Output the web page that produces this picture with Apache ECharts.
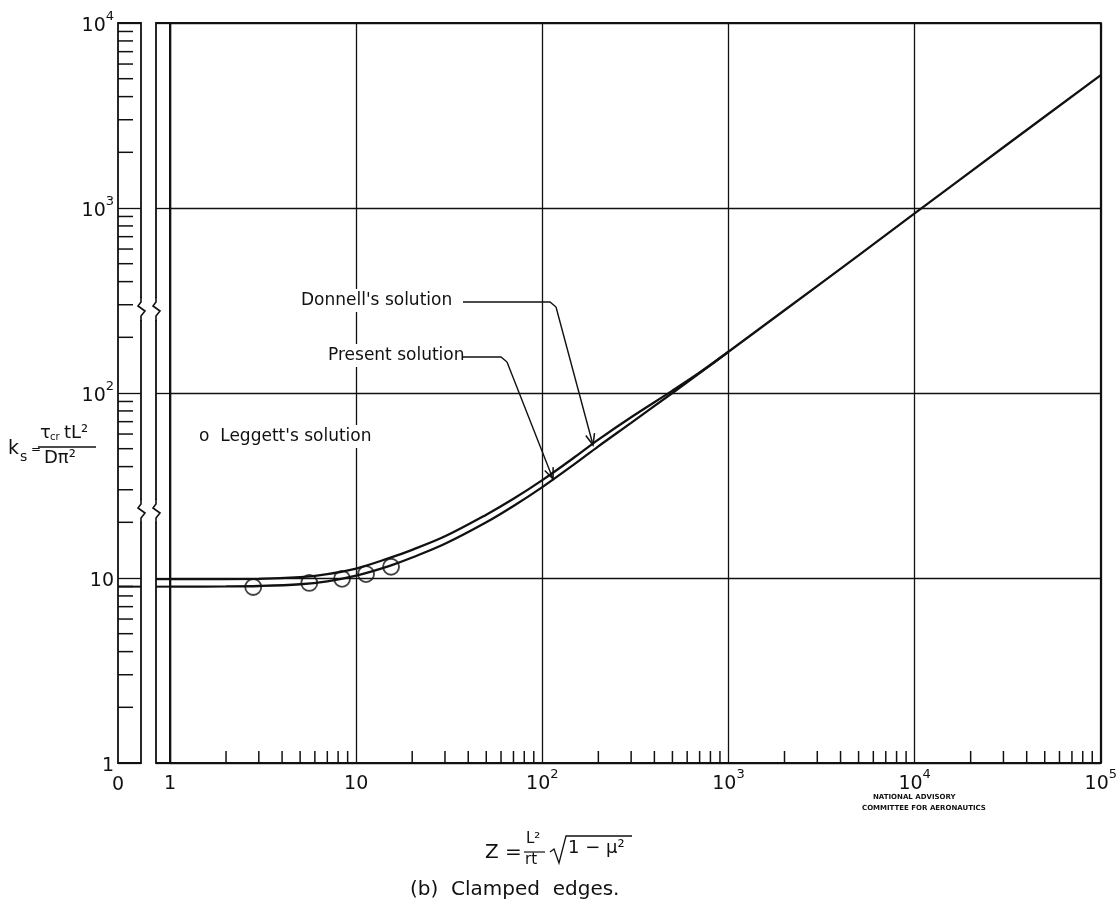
<!DOCTYPE html>
<html><head><meta charset="utf-8">
<script src="https://cdn.jsdelivr.net/npm/echarts@6/dist/echarts.min.js"></script>
<style>html,body{margin:0;padding:0;background:#fff}#c{width:1120px;height:923px}</style>
</head><body><div id="c"></div>
<script>
// ---- data ----
const presentZ = [1, 2, 3, 5, 7, 10, 15, 20, 30, 50, 70, 100, 150, 200, 300, 500, 700, 1000, 2000, 5000, 10000, 30000, 100000];
const presentK = [8.98, 9.0, 9.05, 9.25, 9.6, 10.3, 11.6, 12.9, 15.3, 20.0, 24.5, 31.0, 41.5, 51.5, 69, 100, 128, 167, 280, 555, 935, 2130, 5230];
const donnellZ = [1, 3, 5, 7, 10, 15, 20, 30, 50, 70, 100, 150, 200, 300, 500, 700, 1000];
const donnellK = [9.85, 9.9, 10.1, 10.5, 11.25, 12.8, 14.2, 16.8, 22.0, 26.8, 33.8, 45.2, 56, 74, 103, 129, 167];
const leggettZ = [2.8, 5.6, 8.4, 11.3, 15.4];
const leggettK = [8.94, 9.4, 9.9, 10.5, 11.5];
const flatPresentK = 8.98;
const flatDonnellK = 9.85;
const xMinorTicks = [2,3,4,5,6,7,8,9,20,30,40,50,60,70,80,90,200,300,400,500,600,700,800,900,
  2000,3000,4000,5000,6000,7000,8000,9000,20000,30000,40000,50000,60000,70000,80000,90000];
const yMinorTicks = [2,3,4,5,6,7,8,9,20,30,40,50,60,70,80,90,200,300,400,500,600,700,800,900,
  2000,3000,4000,5000,6000,7000,8000,9000];
const xTickLabels = {1:'{b|1}', 10:'{b|10}', 100:'{b|10}{s|2}', 1000:'{b|10}{s|3}', 10000:'{b|10}{s|4}', 100000:'{b|10}{s|5}'};
const yTickLabels = {1:'{b|1}', 10:'{b|10}', 100:'{b|10}{s|2}', 1000:'{b|10}{s|3}', 10000:'{b|10}{s|4}'};

const FONT = 'DejaVu Sans';
const rich = {
  b: {fontFamily: FONT, fontSize: 19, color: '#111', verticalAlign: 'bottom', lineHeight: 26},
  s: {fontFamily: FONT, fontSize: 13, color: '#111', verticalAlign: 'top', lineHeight: 26}
};
const TOP = 23, BOTTOM = 160;
const INK = '#111';

const chart = echarts.init(document.getElementById('c'), null, {renderer: 'canvas'});

function tickSeries(xi, yi, data, dir, len) {
  return {
    type: 'custom', xAxisIndex: xi, yAxisIndex: yi, silent: true, clip: false, z: 3,
    data: data,
    renderItem: function (params, api) {
      const v = api.value(0);
      let p, q;
      if (dir === 'x') { p = api.coord([v, 1]); q = [p[0], p[1] - len]; }
      else { p = api.coord([0, v]); q = [p[0] + len, p[1]]; }
      return {type: 'line', shape: {x1: p[0], y1: p[1], x2: q[0], y2: q[1]},
              style: {stroke: INK, lineWidth: 1.5}};
    }
  };
}

const blackSplit = {show: true, lineStyle: {color: INK, width: 1.3}};
const txt = (t, l, tp, size) => ({type: 'text', left: l, top: tp, z: 50,
  style: {text: t, font: size + 'px "DejaVu Sans"', fill: INK, backgroundColor: '#fff', padding: [3, 4, 3, 4]}});
const pl = (pts, w) => ({type: 'polyline', z: 60, shape: {points: pts}, style: {stroke: INK, lineWidth: w || 1.4, fill: null}});
function arrowHead(tip, from) {
  const dx = tip[0] - from[0], dy = tip[1] - from[1];
  const L = Math.hypot(dx, dy), ux = dx / L, uy = dy / L, a = 11, w = 4.5;
  const b = [tip[0] - ux * a, tip[1] - uy * a];
  return pl([[b[0] - uy * w, b[1] + ux * w], tip, [b[0] + uy * w, b[1] - ux * w]], 1.5);
}
function zig(x, y) {
  return [
    {type: 'rect', z: 55, shape: {x: x - 5, y: y - 2, width: 10, height: 22}, style: {fill: '#fff'}},
    pl([[x, y - 3], [x, y + 2], [x - 3, y + 6], [x + 4, y + 11], [x, y + 16], [x, y + 21]], 1.6)
  ];
}

const option = {
  animation: false,
  backgroundColor: '#fff',
  grid: [
    {left: 118, width: 23, top: TOP, bottom: BOTTOM, show: true, borderColor: INK, borderWidth: 1.8, backgroundColor: 'transparent'},
    {left: 156, width: 14, top: TOP, bottom: BOTTOM, show: true, borderColor: INK, borderWidth: 1.8, backgroundColor: 'transparent'},
    {left: 170, right: 18, top: TOP, bottom: BOTTOM, show: true, borderColor: INK, borderWidth: 1.8, backgroundColor: 'transparent'}
  ],
  xAxis: [
    {gridIndex: 0, type: 'value', min: 0, max: 1, interval: 1, axisLine: {show: false}, axisTick: {show: false}, splitLine: {show: false},
     axisLabel: {formatter: v => v === 0 ? '{b|0}' : '', rich: rich, margin: 6}},
    {gridIndex: 1, type: 'value', min: 0, max: 1, show: false},
    {gridIndex: 2, type: 'log', logBase: 10, min: 1, max: 100000,
     axisLine: {show: true, lineStyle: {color: INK, width: 1.8}}, axisTick: {show: false},
     splitLine: blackSplit, minorTick: {show: false},
     axisLabel: {formatter: v => xTickLabels[Math.round(v)] || '', rich: rich, margin: 5}}
  ],
  yAxis: [
    {gridIndex: 0, type: 'log', logBase: 10, min: 1, max: 10000, position: 'left',
     axisLine: {show: false}, axisTick: {show: false}, splitLine: blackSplit,
     axisLabel: {formatter: v => yTickLabels[Math.round(v)] || '', rich: rich, margin: 4}},
    {gridIndex: 1, type: 'log', logBase: 10, min: 1, max: 10000, axisLine: {show: false}, axisTick: {show: false},
     axisLabel: {show: false}, splitLine: blackSplit},
    {gridIndex: 2, type: 'log', logBase: 10, min: 1, max: 10000,
     axisLine: {show: true, lineStyle: {color: INK, width: 1.4}}, axisTick: {show: false},
     axisLabel: {show: false}, splitLine: blackSplit}
  ],
  series: [
    tickSeries(2, 2, xMinorTicks, 'x', 12),
    tickSeries(0, 0, yMinorTicks, 'y', 15),
    {type: 'line', xAxisIndex: 0, yAxisIndex: 0, data: [[0, flatPresentK], [1, flatPresentK]], symbol: 'none',
     lineStyle: {color: INK, width: 2}},
    {type: 'line', xAxisIndex: 1, yAxisIndex: 1, data: [[0, flatPresentK], [1, flatPresentK]], symbol: 'none',
     lineStyle: {color: INK, width: 2}},
    {type: 'line', xAxisIndex: 1, yAxisIndex: 1, data: [[0, flatDonnellK], [1, flatDonnellK]], symbol: 'none',
     lineStyle: {color: INK, width: 2}},
    {name: 'Present solution', type: 'line', xAxisIndex: 2, yAxisIndex: 2, smooth: 0.35, symbol: 'none',
     data: presentZ.map((z, i) => [z, presentK[i]]), lineStyle: {color: INK, width: 2.3}},
    {name: "Donnell's solution", type: 'line', xAxisIndex: 2, yAxisIndex: 2, smooth: 0.35, symbol: 'none',
     data: donnellZ.map((z, i) => [z, donnellK[i]]), lineStyle: {color: INK, width: 2.3}},
    {name: "Leggett's solution", type: 'scatter', xAxisIndex: 2, yAxisIndex: 2, symbol: 'circle', symbolSize: 16,
     data: leggettZ.map((z, i) => [z, leggettK[i]]),
     itemStyle: {color: 'rgba(255,255,255,0)', borderColor: INK, borderWidth: 1.8}}
  ],
  graphic: [
    // annotations
    txt("Donnell's solution", 297, 289, 17),
    pl([[463, 302], [550, 302], [556, 307]]),
    pl([[556, 307], [593, 445]]),
    arrowHead([593, 445], [556, 307]),
    txt('Present solution', 324, 344, 17),
    pl([[463, 357], [501, 357], [507, 362]]),
    pl([[507, 362], [553, 479]]),
    arrowHead([553, 479], [507, 362]),
    txt("o  Leggett's solution", 195, 425, 17),
    // axis breaks
    ...zig(141, 300), ...zig(156, 300), ...zig(141, 502), ...zig(156, 502),
    // x-axis title
    {type: 'text', left: 485, top: 843, style: {text: 'Z =', font: '20px "DejaVu Sans"', fill: INK}},
    {type: 'text', left: 526, top: 832, style: {text: 'L²', font: '15px "DejaVu Sans"', fill: INK}},
    {type: 'line', shape: {x1: 524, y1: 852, x2: 545, y2: 852}, style: {stroke: INK, lineWidth: 1.2}},
    {type: 'text', left: 525, top: 853, style: {text: 'rt', font: '15px "DejaVu Sans"', fill: INK}},
    {type: 'polyline', shape: {points: [[550, 852], [554, 849], [559, 863], [566, 836], [632, 836]]}, style: {stroke: INK, lineWidth: 1.3, fill: null}},
    {type: 'text', left: 568, top: 839, style: {text: '1 − μ²', font: '18px "DejaVu Sans"', fill: INK}},
    {type: 'text', left: 410, top: 880, style: {text: '(b)  Clamped  edges.', font: '20px "DejaVu Sans"', fill: INK}},
    // y-axis title
    {type: 'text', left: 8, top: 440, style: {text: 'k', font: '19px "DejaVu Sans"', fill: INK}},
    {type: 'text', left: 20, top: 450, style: {text: 's', font: '14px "DejaVu Sans"', fill: INK}},
    {type: 'text', left: 31, top: 444, style: {text: '=', font: '12px "DejaVu Sans"', fill: INK}},
    {type: 'text', left: 40, top: 424, style: {text: 'τ', font: '18px "DejaVu Sans"', fill: INK}},
    {type: 'text', left: 50, top: 432, style: {text: 'cr', font: '10px "DejaVu Sans"', fill: INK}},
    {type: 'text', left: 64, top: 424, style: {text: 'tL²', font: '18px "DejaVu Sans"', fill: INK}},
    {type: 'line', shape: {x1: 38, y1: 447, x2: 96, y2: 447}, style: {stroke: INK, lineWidth: 1.3}},
    {type: 'text', left: 44, top: 449, style: {text: 'Dπ²', font: '18px "DejaVu Sans"', fill: INK}},
    // NACA stamp
    {type: 'text', left: 873, top: 794, style: {text: 'NATIONAL ADVISORY', font: 'bold 7px "DejaVu Sans"', fill: INK}},
    {type: 'text', left: 862, top: 805, style: {text: 'COMMITTEE FOR AERONAUTICS', font: 'bold 7px "DejaVu Sans"', fill: INK}}
  ]
};
chart.setOption(option);
</script></body></html>
